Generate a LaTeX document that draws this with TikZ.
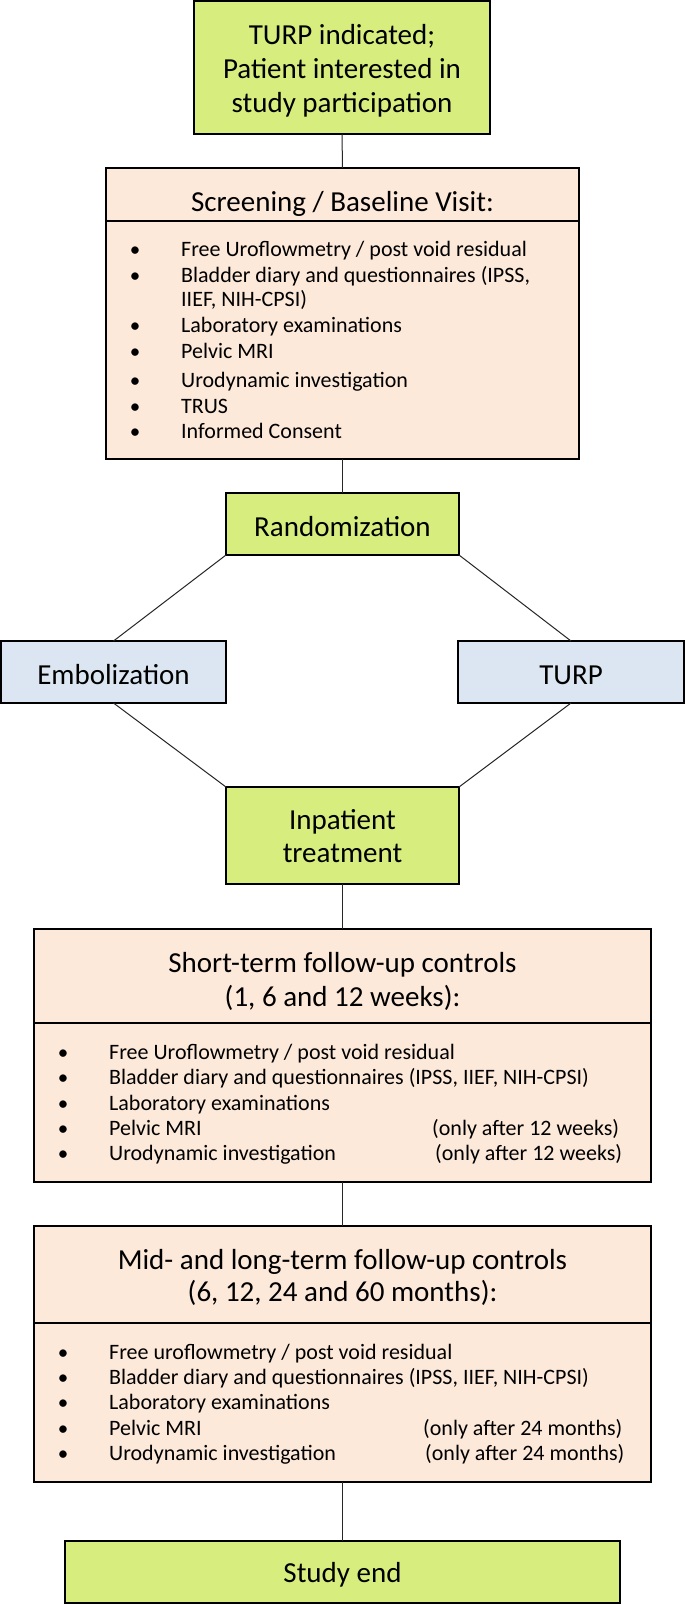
\documentclass[tikz,border=0pt]{standalone}
\usepackage{fontspec}
\setmainfont{Carlito}
\definecolor{grn}{RGB}{215,238,127}
\definecolor{peach}{RGB}{253,233,217}
\definecolor{lblue}{RGB}{220,230,242}
\tikzset{
  box/.style={draw=black, line width=2pt, inner sep=0pt, outer sep=0pt},
  gbox/.style={box, fill=grn},
  pbox/.style={box, fill=peach},
  bbox/.style={box, fill=lblue},
  big/.style={font=\fontsize{29}{34}\selectfont, inner sep=0pt, anchor=base, align=center},
  sm/.style={font=\fontsize{22}{26}\selectfont, inner sep=0pt, anchor=base west},
  bul/.style={font=\fontsize{21}{26}\selectfont, inner sep=0pt, anchor=base},
  conn/.style={draw=black!85, line width=1pt},
  sep/.style={draw=black, line width=2pt},
}
\begin{document}
\begin{tikzpicture}[x=1pt,y=-1pt]
\useasboundingbox (0,0) rectangle (685,1604);
\fill[white] (0,0) rectangle (685,1604);

% boxes
\node[gbox, minimum width=296pt, minimum height=133pt] (top) at (342,67.5) {};
\node[pbox, minimum width=473pt, minimum height=291pt] (screen) at (342.5,313.5) {};
\node[gbox, minimum width=233pt, minimum height=62pt] (rand) at (342.5,524) {};
\node[bbox, minimum width=225pt, minimum height=62pt] (emb) at (113.5,672) {};
\node[bbox, minimum width=226pt, minimum height=62pt] (turp) at (571,672) {};
\node[gbox, minimum width=233pt, minimum height=97pt] (inp) at (342.5,835.5) {};
\node[pbox, minimum width=617pt, minimum height=253pt] (short) at (342.5,1055.5) {};
\node[pbox, minimum width=617pt, minimum height=256pt] (mid) at (342.5,1354) {};
\node[gbox, minimum width=555pt, minimum height=62pt] (end) at (342.5,1572) {};

% header separators
\coordinate (h1) at (0,221);
\coordinate (h2) at (0,1023);
\coordinate (h3) at (0,1323);
\draw[sep] (screen.west |- h1) -- (screen.east |- h1);
\draw[sep] (short.west |- h2) -- (short.east |- h2);
\draw[sep] (mid.west |- h3) -- (mid.east |- h3);

% connectors
\draw[conn] (top.south) -- (screen.north);
\draw[conn] (screen.south) -- (rand.north);
\draw[conn] (rand.south west) -- (emb.north);
\draw[conn] (rand.south east) -- (turp.north);
\draw[conn] (emb.south) -- (inp.north west);
\draw[conn] (turp.south) -- (inp.north east);
\draw[conn] (inp.south) -- (short.north);
\draw[conn] (short.south) -- (mid.north);
\draw[conn] (mid.south) -- (end.north);

% big texts
\node[big] (t1) at (342,44.5) {TURP indicated;};
\node[big] (t2) at (342,78) {Patient interested in};
\node[big] (t3) at (342,112.5) {study participation};
\node[big] (sh) at (342.5,211.5) {Screening / Baseline Visit:};
\node[big] (rt) at (342.5,536.5) {Randomization};
\node[big] (et) at (113.5,684.5) {Embolization};
\node[big] (tt) at (571,684.5) {TURP};
\node[big] (i1) at (342.5,829.5) {Inpatient};
\node[big] (i2) at (342.5,862.5) {treatment};
\node[big] (st1) at (342.5,972.5) {Short-term follow-up controls};
\node[big] (st2) at (342.5,1006.5) {(1, 6 and 12 weeks):};
\node[big] (mt1) at (342.5,1269.5) {Mid- and long-term follow-up controls};
\node[big] (mt2) at (342.5,1301.5) {(6, 12, 24 and 60 months):};
\node[big] (et2) at (342.5,1582.5) {Study end};

% screening list
\node[bul] (sb1) at (135,256) {\textbullet};
\node[sm] (s1) at (181,256) {Free Uroflowmetry / post void residual};
\node[bul] (sb2) at (135,282) {\textbullet};
\node[sm] (s2) at (181,282) {Bladder diary and questionnaires (IPSS,};
\node[sm] (s2b) at (181,306) {IIEF, NIH-CPSI)};
\node[bul] (sb3) at (135,332) {\textbullet};
\node[sm] (s3) at (181,332) {Laboratory examinations};
\node[bul] (sb4) at (135,358) {\textbullet};
\node[sm] (s4) at (181,358) {Pelvic MRI};
\node[bul] (sb5) at (135,387) {\textbullet};
\node[sm] (s5) at (181,387) {Urodynamic investigation};
\node[bul] (sb6) at (135,413) {\textbullet};
\node[sm] (s6) at (181,413) {TRUS};
\node[bul] (sb7) at (135,438) {\textbullet};
\node[sm] (s7) at (181,438) {Informed Consent};

% short-term list
\node[bul] (kb1) at (63,1059) {\textbullet};
\node[sm] (k1) at (109,1059) {Free Uroflowmetry / post void residual};
\node[bul] (kb2) at (63,1084) {\textbullet};
\node[sm] (k2) at (109,1084) {Bladder diary and questionnaires (IPSS, IIEF, NIH-CPSI)};
\node[bul] (kb3) at (63,1110) {\textbullet};
\node[sm] (k3) at (109,1110) {Laboratory examinations};
\node[bul] (kb4) at (63,1135) {\textbullet};
\node[sm] (k4) at (109,1135) {Pelvic MRI};
\node[sm] (k4a) at (432,1135) {(only after 12 weeks)};
\node[bul] (kb5) at (63,1160) {\textbullet};
\node[sm] (k5) at (109,1160) {Urodynamic investigation};
\node[sm] (k5a) at (435,1160) {(only after 12 weeks)};

% mid-term list
\node[bul] (mb1) at (63,1359) {\textbullet};
\node[sm] (m1) at (109,1359) {Free uroflowmetry / post void residual};
\node[bul] (mb2) at (63,1384) {\textbullet};
\node[sm] (m2) at (109,1384) {Bladder diary and questionnaires (IPSS, IIEF, NIH-CPSI)};
\node[bul] (mb3) at (63,1409) {\textbullet};
\node[sm] (m3) at (109,1409) {Laboratory examinations};
\node[bul] (mb4) at (63,1435) {\textbullet};
\node[sm] (m4) at (109,1435) {Pelvic MRI};
\node[sm] (m4a) at (423,1435) {(only after 24 months)};
\node[bul] (mb5) at (63,1460) {\textbullet};
\node[sm] (m5) at (109,1460) {Urodynamic investigation};
\node[sm] (m5a) at (425,1460) {(only after 24 months)};
\end{tikzpicture}
\end{document}
